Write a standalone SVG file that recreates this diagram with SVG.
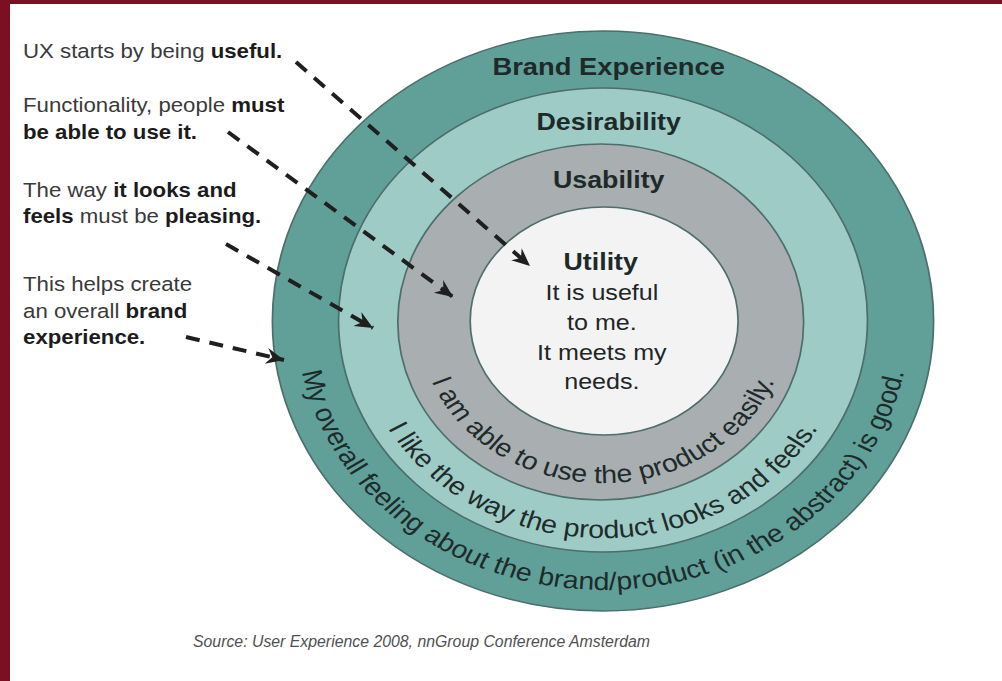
<svg xmlns="http://www.w3.org/2000/svg" width="1002" height="681" viewBox="0 0 1002 681">
  <style>
    .ring { stroke: #4d6e6a; stroke-width: 1.5; }
    .title { font-family: "Liberation Sans", Arial, sans-serif; font-weight: bold; fill: #1e2a2a; text-anchor: middle; }
    .body { font-family: "Liberation Sans", Arial, sans-serif; fill: #1e2626; text-anchor: middle; font-size: 22px; }
    .curve { font-family: "Liberation Sans", Arial, sans-serif; fill: #1e2b2b; font-size: 25px; }
    .note { font-family: "Liberation Sans", Arial, sans-serif; font-size: 19.5px; fill: #3a3a3a; }
    .note .b { font-weight: bold; fill: #1c1c1c; }
    .arrow { fill: none; stroke: #1f1f1f; stroke-width: 4; stroke-dasharray: 14 10; marker-end: url(#head); }
    .src { font-family: "Liberation Sans", Arial, sans-serif; font-style: italic; font-size: 16px; fill: #505050; }
  </style>
  <defs>
    <marker id="head" markerUnits="userSpaceOnUse" markerWidth="20" markerHeight="18" refX="18" refY="9" orient="auto" viewBox="0 0 20 18">
      <path d="M0,1 L18,9 L0,17 L6,9 Z" fill="#1f1f1f"/>
    </marker>
    <path id="p1" d="M -152.2 -55.4 A 162 162 0 1 0 152.2 -55.4"/>
    <path id="p2" d="M -203.9 -74.2 A 217 217 0 1 0 203.9 -74.2"/>
    <path id="p3" d="M -233.0 -134.5 A 269 269 0 1 0 233.0 -134.5"/>
  </defs>

  <rect x="0" y="0" width="1002" height="681" fill="#ffffff"/>
  <rect x="0" y="0" width="1002" height="4" fill="#7d0f22"/>
  <rect x="0" y="0" width="10" height="681" fill="#7d0f22"/>

  <g transform="translate(603 321) scale(1.14 1)">
    <g id="brand-experience">
      <circle class="ring" cx="0" cy="0" r="290" fill="#60a099"/>
      <text class="title" x="5" y="-246" font-size="24">Brand Experience</text>
      <text class="curve"><textPath href="#p3" startOffset="50%" text-anchor="middle">My overall feeling about the brand/product (in the abstract) is good.</textPath></text>
    </g>
    <g id="desirability">
      <circle class="ring" cx="0" cy="-1" r="232" fill="#9fcbc6"/>
      <text class="title" x="5" y="-191" font-size="23.5">Desirability</text>
      <text class="curve"><textPath href="#p2" startOffset="50%" text-anchor="middle">I like the way the product looks and feels.</textPath></text>
    </g>
    <g id="usability">
      <circle class="ring" cx="-2" cy="1" r="178" fill="#a9aeb1"/>
      <text class="title" x="5" y="-133" font-size="23.5">Usability</text>
      <text class="curve"><textPath href="#p1" startOffset="50%" text-anchor="middle">I am able to use the product easily.</textPath></text>
    </g>
    <g id="utility">
      <ellipse class="ring" cx="1" cy="0" rx="117.5" ry="114" fill="#f3f3f3"/>
      <text class="title" x="-2" y="-51" font-size="23.5">Utility</text>
      <text class="body" x="-1" y="-21">It is useful</text>
      <text class="body" x="-1" y="9">to me.</text>
      <text class="body" x="-1" y="39">It meets my</text>
      <text class="body" x="-1" y="68">needs.</text>
    </g>
  </g>

  <g id="notes" transform="scale(1.14 1)">
    <g id="note-useful">
      <text class="note" x="20.2" y="58">UX starts by being <tspan class="b">useful.</tspan></text>
    </g>
    <g id="note-usable">
      <text class="note" x="20.2" y="112">Functionality, people <tspan class="b">must</tspan></text>
      <text class="note" x="20.2" y="139"><tspan class="b">be able to use it.</tspan></text>
    </g>
    <g id="note-desirable">
      <text class="note" x="20.2" y="197">The way <tspan class="b">it looks and</tspan></text>
      <text class="note" x="20.2" y="223"><tspan class="b">feels</tspan> must be <tspan class="b">pleasing.</tspan></text>
    </g>
    <g id="note-brand">
      <text class="note" x="20.2" y="291">This helps create</text>
      <text class="note" x="20.2" y="318">an overall <tspan class="b">brand</tspan></text>
      <text class="note" x="20.2" y="344"><tspan class="b">experience.</tspan></text>
    </g>
  </g>

  <g id="connectors">
    <path class="arrow" d="M296 62 L530 266"/>
    <path class="arrow" d="M228 132 L453 297"/>
    <path class="arrow" d="M226 244 L373 328"/>
    <path class="arrow" d="M186 337 L284 360"/>
  </g>

  <text id="source" class="src" x="193" y="647" textLength="457" lengthAdjust="spacingAndGlyphs">Source: User Experience 2008, nnGroup Conference Amsterdam</text>
</svg>
